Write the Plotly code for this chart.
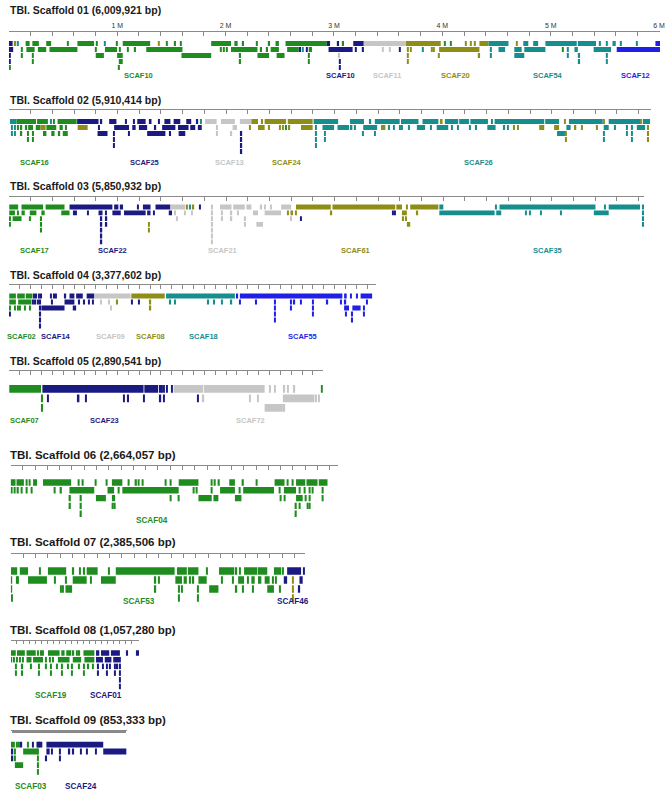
import plotly.graph_objects as go

W, H = 665, 795

# colour of each chromosome-group code
COLORS = {
    "G": "#1E8C1E",  # green
    "N": "#1A1A82",  # navy
    "Y": "#C6C6C6",  # grey
    "O": "#8E8E16",  # olive
    "T": "#178E8E",  # teal
    "B": "#1F1FE6",  # blue
}

SCAFFOLD_TITLES = [
    "TBI. Scaffold 01 (6,009,921 bp)",
    "TBI. Scaffold 02 (5,910,414 bp)",
    "TBI. Scaffold 03 (5,850,932 bp)",
    "TBI. Scaffold 04 (3,377,602 bp)",
    "TBI. Scaffold 05 (2,890,541 bp)",
    "TBI. Scaffold 06 (2,664,057 bp)",
    "TBI. Scaffold 07 (2,385,506 bp)",
    "TBI. Scaffold 08 (1,057,280 bp)",
    "TBI. Scaffold 09 (853,333 bp)",
]
SCAFFOLD_LENGTHS = [6009921, 5910414, 5850932, 3377602, 2890541,
                    2664057, 2385506, 1057280, 853333]

# aligned blocks: (group, start kb, end kb, track row)
# short hits: (group, position kb, first row, last row)
# group labels: (text, group, centre kb)

S01_BLOCKS = [
    ("N", 0, 35, 0), ("G", 155, 192, 0), ("G", 217, 277, 0), ("G", 345, 390, 0),
    ("G", 633, 786, 0), ("G", 1051, 1304, 0), ("G", 1867, 2050, 0), ("G", 2081, 2111, 0),
    ("G", 2461, 2492, 0), ("G", 2553, 2934, 0), ("N", 2934, 2964, 0), ("N", 3178, 3275, 0),
    ("Y", 3275, 3665, 0), ("O", 3665, 3985, 0), ("O", 4342, 4427, 0), ("T", 4427, 4610, 0),
    ("T", 4747, 4793, 0), ("T", 4838, 4884, 0), ("T", 4951, 5240, 0), ("T", 5250, 5418, 0),
    ("T", 5570, 5600, 0), ("B", 5966, 6010, 0),
    ("N", 0, 40, 1), ("G", 162, 238, 1), ("G", 268, 345, 1), ("G", 375, 633, 1),
    ("G", 887, 999, 1), ("G", 1268, 1602, 1), ("G", 2050, 2294, 1), ("G", 2416, 2492, 1),
    ("G", 2568, 2675, 1), ("G", 2767, 2797, 1), ("N", 2950, 3172, 1), ("O", 3970, 4342, 1),
    ("T", 4518, 4579, 1), ("T", 4664, 4732, 1), ("T", 4756, 4951, 1), ("T", 5219, 5250, 1),
    ("T", 5396, 5557, 1), ("B", 5609, 6010, 1),
    ("G", 802, 877, 2), ("G", 999, 1051, 2), ("G", 1593, 1867, 2), ("G", 2294, 2401, 2),
    ("G", 2471, 2544, 2), ("T", 4664, 4756, 2),
    ("G", 1015, 1051, 3),
]
S01_TICKS = [
    ("O", 61, 0, 0), ("T", 85, 0, 0), ("G", 546, 0, 0), ("G", 809, 0, 0), ("T", 887, 0, 0),
    ("G", 1000, 0, 0), ("O", 1387, 0, 0), ("G", 1456, 0, 0), ("G", 1536, 0, 0),
    ("G", 1588, 0, 0), ("G", 2164, 0, 0), ("G", 2285, 0, 0), ("G", 2404, 0, 0),
    ("N", 3041, 0, 0), ("G", 3087, 0, 0), ("G", 4025, 0, 0), ("G", 4077, 0, 0),
    ("O", 4214, 0, 0), ("O", 4260, 0, 0), ("O", 4299, 0, 0), ("O", 4686, 0, 0),
    ("T", 5457, 0, 0), ("T", 5518, 0, 3), ("T", 5646, 0, 0), ("T", 5798, 0, 0),
    ("N", 9, 2, 3), ("G", 12, 4, 4), ("G", 123, 1, 2), ("G", 222, 2, 3), ("G", 802, 1, 1),
    ("G", 1024, 1, 1), ("G", 1100, 1, 1), ("G", 1167, 1, 1), ("G", 1015, 4, 4),
    ("G", 1959, 1, 1), ("G", 1983, 1, 1), ("G", 2011, 1, 1), ("G", 2136, 2, 3),
    ("G", 2330, 1, 1), ("G", 2385, 1, 1), ("N", 2690, 1, 1), ("T", 2715, 1, 1),
    ("N", 2751, 1, 1), ("G", 2767, 2, 3), ("Y", 3050, 2, 2), ("N", 3053, 3, 4),
    ("N", 3202, 1, 1), ("N", 3270, 1, 1), ("Y", 3452, 1, 1), ("Y", 3513, 1, 1),
    ("N", 3610, 1, 1), ("O", 3681, 1, 3), ("O", 3711, 1, 1), ("T", 3818, 1, 1),
    ("O", 3903, 1, 1), ("O", 3924, 1, 1), ("O", 3970, 2, 2), ("O", 4342, 2, 2),
    ("T", 4451, 1, 2), ("G", 5112, 1, 1), ("T", 5158, 1, 2), ("T", 5265, 2, 3),
]
S01_LABELS = [("SCAF10", "G", 1198), ("SCAF10", "N", 3056), ("SCAF11", "Y", 3492),
              ("SCAF20", "O", 4122), ("SCAF54", "T", 4973), ("SCAF12", "B", 5784)]

S02_BLOCKS = [
    ("T", 9, 70, 0), ("G", 70, 250, 0), ("G", 259, 359, 0), ("G", 448, 624, 0),
    ("N", 628, 825, 0), ("N", 923, 990, 0), ("N", 1182, 1259, 0), ("N", 1289, 1313, 0),
    ("N", 1432, 1487, 0), ("N", 1517, 1578, 0), ("N", 1633, 1679, 0), ("Y", 1807, 1913, 0),
    ("Y", 1953, 2081, 0), ("Y", 2127, 2233, 0), ("O", 2233, 2294, 0), ("O", 2355, 2553, 0),
    ("O", 2568, 2797, 0), ("T", 2806, 3032, 0), ("T", 3141, 3270, 0), ("T", 3370, 3599, 0),
    ("T", 3611, 3772, 0), ("T", 3809, 3955, 0), ("O", 3970, 3994, 0), ("T", 4015, 4138, 0),
    ("T", 4147, 4238, 0), ("T", 4250, 4412, 0), ("T", 4473, 4930, 0), ("T", 4939, 5067, 0),
    ("T", 5158, 5469, 0), ("T", 5524, 5813, 0), ("T", 5838, 5905, 0),
    ("G", 177, 222, 1), ("G", 247, 290, 1), ("O", 290, 338, 1), ("G", 345, 436, 1),
    ("G", 466, 496, 1), ("O", 633, 725, 1), ("N", 969, 1106, 1), ("N", 1136, 1167, 1),
    ("N", 1197, 1273, 1), ("N", 1411, 1533, 1), ("N", 1557, 1654, 1), ("N", 1670, 1716, 1),
    ("N", 1740, 1776, 1), ("Y", 2060, 2100, 1), ("O", 2294, 2355, 1), ("O", 2690, 2797, 1),
    ("T", 2888, 2995, 1), ("T", 3026, 3132, 1), ("T", 3147, 3163, 1), ("T", 3263, 3391, 1),
    ("O", 3427, 3467, 1), ("T", 3757, 3833, 1), ("T", 3940, 4046, 1), ("T", 4406, 4482, 1),
    ("O", 4884, 4930, 1), ("O", 5021, 5067, 1), ("T", 5134, 5173, 1), ("O", 5204, 5225, 1),
    ("T", 5478, 5524, 1), ("T", 5783, 5859, 1),
    ("G", 314, 345, 2), ("G", 390, 420, 2), ("G", 451, 472, 2), ("G", 496, 542, 2),
    ("N", 816, 908, 2), ("N", 1273, 1441, 2), ("N", 1563, 1624, 2), ("T", 5048, 5121, 2),
]
S02_TICKS = [
    ("T", 390, 0, 0), ("G", 414, 0, 0), ("N", 853, 0, 0), ("N", 1076, 0, 0),
    ("N", 1152, 0, 0), ("N", 1380, 0, 0), ("N", 1737, 0, 0), ("T", 1770, 0, 0),
    ("O", 2334, 0, 0), ("T", 3330, 0, 0), ("T", 4449, 0, 0), ("O", 5121, 0, 0),
    ("O", 5478, 0, 0), ("O", 5819, 0, 0),
    ("T", 25, 1, 2), ("T", 55, 1, 2), ("G", 85, 1, 1), ("G", 116, 1, 2), ("G", 162, 1, 1),
    ("G", 177, 2, 3), ("G", 222, 2, 3), ("G", 527, 1, 1), ("N", 832, 1, 1), ("N", 969, 2, 4),
    ("N", 1106, 2, 2), ("N", 1350, 1, 1), ("N", 1487, 2, 2), ("Y", 1913, 1, 2),
    ("Y", 2050, 2, 2), ("Y", 2081, 1, 1), ("N", 2142, 2, 5), ("O", 2218, 1, 1),
    ("O", 2395, 1, 1), ("O", 2495, 1, 1), ("O", 2523, 1, 1), ("G", 2553, 1, 1),
    ("O", 2584, 1, 1), ("T", 2827, 1, 4), ("T", 2910, 2, 3), ("T", 2964, 1, 1),
    ("T", 3190, 1, 1), ("T", 3263, 2, 2), ("T", 3370, 2, 2), ("T", 3498, 1, 1),
    ("T", 3544, 1, 1), ("T", 3599, 1, 1), ("T", 3620, 1, 1), ("T", 3681, 1, 1),
    ("T", 3885, 1, 1), ("T", 4077, 1, 1), ("T", 4138, 1, 1), ("T", 4244, 1, 1),
    ("T", 4305, 1, 1), ("T", 4564, 1, 1), ("T", 4595, 1, 1), ("O", 4655, 1, 1),
    ("O", 4686, 1, 1), ("O", 5128, 2, 3), ("O", 5280, 1, 1), ("O", 5417, 1, 1),
    ("T", 5478, 2, 3), ("T", 5579, 1, 1), ("T", 5692, 1, 2), ("T", 5738, 1, 3),
    ("O", 5889, 1, 3),
]
S02_LABELS = [("SCAF16", "G", 238), ("SCAF25", "N", 1250), ("SCAF13", "Y", 2029),
              ("SCAF24", "O", 2559), ("SCAF26", "T", 4321)]

S03_BLOCKS = [
    ("G", 3, 85, 0), ("G", 116, 314, 0), ("G", 338, 512, 0), ("N", 558, 953, 0),
    ("N", 969, 1008, 0), ("N", 1021, 1051, 0), ("N", 1182, 1197, 0), ("N", 1234, 1304, 0),
    ("N", 1350, 1487, 0), ("Y", 1487, 1624, 0), ("Y", 1944, 2050, 0), ("Y", 2066, 2172, 0),
    ("Y", 2187, 2233, 0), ("Y", 2507, 2599, 0), ("O", 2644, 2964, 0), ("O", 2980, 3558, 0),
    ("O", 3568, 3620, 0), ("O", 3696, 3955, 0), ("T", 3964, 4001, 0), ("T", 4518, 5402, 0),
    ("T", 5524, 5813, 0),
    ("G", 3, 55, 1), ("G", 116, 146, 1), ("G", 192, 253, 1), ("G", 299, 329, 1),
    ("G", 482, 558, 1), ("N", 825, 862, 1), ("N", 953, 1030, 1), ("N", 1060, 1259, 1),
    ("N", 1273, 1304, 1), ("N", 1472, 1502, 1), ("Y", 2248, 2294, 1), ("Y", 2355, 2507, 1),
    ("O", 3620, 3665, 1), ("T", 3964, 4473, 1), ("T", 4488, 4534, 1), ("T", 5387, 5524, 1),
    ("G", 34, 116, 2), ("Y", 2279, 2340, 3), ("O", 3665, 3696, 3),
]
S03_TICKS = [
    ("O", 1639, 0, 0), ("T", 1670, 0, 0), ("O", 1700, 0, 0), ("N", 1761, 0, 0),
    ("Y", 1867, 0, 6), ("Y", 2325, 0, 0), ("Y", 2355, 0, 0), ("Y", 2416, 0, 0),
    ("O", 3665, 0, 0), ("T", 4488, 0, 0), ("T", 5487, 0, 0), ("T", 5844, 0, 3),
    ("G", 85, 1, 1), ("G", 9, 2, 3), ("G", 192, 2, 2), ("G", 299, 2, 4), ("N", 603, 1, 1),
    ("N", 619, 1, 1), ("N", 725, 1, 1), ("N", 853, 2, 6), ("N", 899, 2, 3), ("N", 893, 1, 1),
    ("N", 1335, 1, 1), ("O", 1289, 3, 4), ("Y", 1533, 1, 1), ("Y", 1548, 2, 2),
    ("Y", 1624, 1, 1), ("Y", 1685, 1, 1), ("Y", 1959, 1, 1), ("Y", 1965, 2, 2),
    ("Y", 2050, 1, 2), ("Y", 2111, 1, 1), ("Y", 2172, 2, 3), ("Y", 2599, 1, 2),
    ("O", 2568, 1, 1), ("O", 2610, 1, 1), ("O", 2640, 1, 1), ("N", 2690, 2, 2),
    ("O", 2971, 1, 1), ("N", 3537, 1, 1), ("N", 3558, 1, 1), ("O", 3763, 1, 1),
    ("O", 3629, 2, 2), ("O", 3655, 2, 2), ("T", 4762, 1, 1), ("T", 4799, 1, 1),
    ("T", 4899, 1, 1), ("T", 5082, 1, 1),
]
S03_LABELS = [("SCAF17", "G", 238), ("SCAF22", "N", 953), ("SCAF21", "Y", 1965),
              ("SCAF61", "O", 3193), ("SCAF35", "T", 4961)]

S04_BLOCKS = [
    ("G", 3, 64, 0), ("G", 76, 146, 0), ("G", 155, 217, 0), ("N", 222, 259, 0),
    ("N", 512, 527, 0), ("N", 558, 603, 0), ("N", 619, 680, 0), ("N", 716, 786, 0),
    ("Y", 786, 1121, 0), ("O", 1127, 1435, 0), ("T", 1447, 2081, 0), ("B", 2127, 3071, 0),
    ("B", 3087, 3111, 0), ("B", 3239, 3345, 0),
    ("G", 3, 64, 1), ("G", 85, 207, 1), ("N", 512, 603, 1),
    ("N", 299, 512, 2), ("N", 588, 619, 2), ("B", 3087, 3132, 2), ("B", 3163, 3239, 2),
]
S04_TICKS = [
    ("N", 277, 0, 0), ("N", 299, 0, 0), ("N", 390, 0, 0), ("N", 420, 0, 0), ("N", 436, 0, 0),
    ("B", 2105, 0, 0), ("B", 3147, 0, 0), ("B", 3208, 0, 0),
    ("G", 9, 2, 2), ("N", 9, 3, 3), ("G", 55, 2, 2), ("G", 85, 2, 2), ("G", 100, 2, 2),
    ("G", 146, 2, 2), ("G", 192, 2, 2), ("N", 222, 1, 1), ("N", 245, 1, 1), ("N", 270, 1, 1),
    ("N", 290, 1, 5), ("N", 399, 1, 1), ("N", 649, 1, 1), ("N", 695, 1, 1), ("N", 734, 1, 1),
    ("N", 771, 1, 1), ("Y", 847, 1, 1), ("Y", 923, 1, 1), ("Y", 939, 2, 2), ("O", 999, 1, 1),
    ("N", 1136, 1, 1), ("N", 1197, 1, 1), ("O", 1304, 1, 2), ("T", 1487, 1, 1),
    ("T", 1533, 1, 1), ("T", 1837, 1, 1), ("T", 1892, 1, 1), ("T", 1959, 1, 1),
    ("T", 2050, 1, 1), ("B", 2127, 1, 1), ("B", 2279, 1, 1), ("B", 2447, 1, 4),
    ("B", 2599, 1, 2), ("B", 2630, 1, 1), ("B", 2690, 1, 1), ("B", 2797, 1, 3),
    ("B", 2934, 1, 1), ("B", 3060, 1, 1), ("B", 3100, 1, 1), ("B", 3102, 3, 3),
    ("B", 3163, 3, 4), ("B", 3270, 2, 3), ("B", 3300, 1, 1),
]
S04_LABELS = [("SCAF02", "G", 116), ("SCAF14", "N", 436), ("SCAF09", "Y", 939),
              ("SCAF08", "O", 1304), ("SCAF18", "T", 1792), ("SCAF55", "B", 2706)]

S05_BLOCKS = [
    ("G", 3, 277, 0), ("N", 308, 1240, 0), ("N", 1247, 1374, 0), ("Y", 1517, 1790, 0),
    ("Y", 1797, 2355, 0), ("G", 2873, 2904, 0),
    ("N", 633, 649, 1), ("Y", 2523, 2813, 1),
    ("Y", 2355, 2523, 2),
]
S05_TICKS = [
    ("G", 290, 0, 0), ("N", 1396, 0, 0), ("N", 1411, 0, 0), ("N", 1426, 0, 0),
    ("N", 1456, 0, 0), ("N", 1502, 0, 0), ("Y", 2401, 0, 0), ("Y", 2447, 0, 0),
    ("Y", 2538, 0, 0), ("Y", 2568, 0, 0), ("Y", 2630, 0, 0),
    ("G", 308, 1, 2), ("N", 359, 1, 1), ("N", 710, 1, 1), ("N", 1060, 1, 1),
    ("N", 1100, 1, 1), ("N", 1243, 1, 1), ("N", 1396, 1, 1), ("N", 1426, 1, 1),
    ("N", 1740, 1, 1), ("Y", 1792, 1, 1), ("Y", 2218, 1, 1), ("Y", 2294, 1, 1),
    ("Y", 2827, 1, 1), ("Y", 2858, 1, 1), ("Y", 2538, 2, 2),
]
S05_LABELS = [("SCAF07", "G", 146), ("SCAF23", "N", 878), ("SCAF72", "Y", 2224)]

S06_BLOCKS = [
    ("G", 0, 40, 0), ("G", 48, 108, 0), ("G", 183, 215, 0), ("G", 264, 493, 0),
    ("G", 825, 910, 0), ("G", 1369, 1530, 0), ("G", 1781, 1827, 0), ("G", 2150, 2231, 0),
    ("G", 2325, 2400, 0), ("G", 2410, 2500, 0), ("G", 2510, 2581, 0),
    ("G", 479, 681, 1), ("G", 789, 843, 1), ("G", 910, 1369, 1), ("G", 1706, 1827, 1),
    ("G", 1894, 2145, 1), ("G", 2226, 2325, 1),
    ("G", 695, 776, 2), ("G", 825, 851, 2), ("G", 1530, 1638, 2), ("G", 1652, 1692, 2),
    ("G", 1827, 1880, 2), ("G", 2325, 2379, 2),
]
S06_TICKS = [
    ("G", 129, 0, 0), ("G", 156, 0, 0), ("G", 555, 0, 0), ("G", 587, 0, 0), ("G", 695, 0, 0),
    ("G", 781, 0, 0), ("G", 959, 0, 0), ("G", 1023, 0, 0), ("G", 1045, 0, 0),
    ("G", 1078, 0, 0), ("G", 1261, 0, 0), ("G", 1302, 0, 0), ("G", 1638, 0, 0),
    ("G", 1665, 0, 0), ("G", 1698, 0, 0), ("G", 1894, 0, 0), ("G", 2002, 0, 0),
    ("G", 2258, 0, 0), ("G", 2298, 0, 0),
    ("G", 8, 1, 1), ("G", 35, 1, 1), ("G", 61, 1, 1), ("G", 89, 1, 1), ("G", 129, 1, 1),
    ("G", 170, 1, 1), ("G", 358, 1, 1), ("G", 412, 1, 1), ("G", 878, 1, 1), ("G", 1490, 1, 1),
    ("G", 1517, 1, 1), ("G", 1638, 1, 1), ("G", 1867, 1, 1), ("G", 2191, 1, 1),
    ("G", 2353, 1, 1), ("G", 2393, 1, 1), ("G", 2433, 1, 1), ("G", 2460, 1, 1),
    ("G", 2541, 1, 1),
    ("G", 485, 2, 3), ("G", 574, 2, 4), ("G", 1302, 2, 2), ("G", 1369, 2, 2),
    ("G", 2199, 2, 2), ("G", 2231, 2, 2), ("G", 2406, 2, 2), ("G", 2433, 2, 3),
    ("G", 2541, 2, 2), ("G", 834, 3, 3), ("G", 848, 3, 3), ("G", 2325, 3, 4),
    ("G", 2353, 3, 3), ("G", 2420, 3, 3),
]
S06_LABELS = [("SCAF04", "G", 1153)]

S07_BLOCKS = [
    ("G", 0, 51, 0), ("G", 72, 139, 0), ("G", 300, 448, 0), ("G", 614, 703, 0),
    ("G", 850, 1327, 0), ("G", 1346, 1426, 0), ("G", 1434, 1520, 0), ("G", 1687, 1810, 0),
    ("G", 1890, 1998, 0), ("G", 2003, 2078, 0), ("G", 2132, 2191, 0), ("N", 2239, 2352, 0),
    ("G", 139, 292, 1), ("G", 501, 614, 1), ("G", 730, 850, 1), ("G", 1333, 1387, 1),
    ("G", 1400, 1426, 1), ("G", 1520, 1587, 1), ("G", 1842, 1890, 1), ("G", 1949, 1976, 1),
    ("G", 2003, 2030, 1), ("G", 2057, 2097, 1), ("N", 2212, 2239, 1), ("N", 2339, 2365, 1),
    ("G", 442, 496, 2), ("G", 1607, 1682, 2), ("G", 2078, 2132, 2),
    ("G", 5, 14, 3),
]
S07_TICKS = [
    ("G", 233, 0, 0), ("G", 507, 0, 0), ("G", 561, 0, 0), ("G", 595, 0, 0), ("G", 796, 0, 0),
    ("G", 1587, 0, 0), ("G", 1829, 0, 0), ("G", 1856, 0, 0), ("G", 2204, 0, 0),
    ("N", 2373, 0, 0),
    ("G", 5, 1, 2), ("G", 46, 1, 1), ("G", 59, 1, 1), ("G", 354, 1, 1), ("G", 448, 1, 1),
    ("G", 649, 1, 1), ("G", 1172, 1, 2), ("G", 1201, 1, 1), ("G", 1454, 1, 1),
    ("G", 1480, 1, 1), ("G", 1708, 1, 1), ("G", 1802, 1, 1), ("G", 1923, 1, 1),
    ("G", 2124, 1, 1), ("G", 2151, 1, 1), ("O", 2285, 1, 3),
    ("G", 408, 2, 2), ("G", 421, 2, 2), ("G", 1360, 2, 3), ("G", 1387, 2, 2),
    ("G", 1514, 2, 3), ("G", 1829, 2, 2), ("G", 1883, 2, 2), ("G", 1963, 2, 2),
    ("G", 2178, 2, 2), ("N", 2339, 2, 2),
]
S07_LABELS = [("SCAF53", "G", 1038), ("SCAF46", "N", 2285)]

S08_BLOCKS = [
    ("G", 0, 40, 0), ("G", 50, 115, 0), ("G", 129, 205, 0), ("G", 306, 402, 0),
    ("G", 416, 443, 0), ("G", 457, 498, 0), ("G", 599, 689, 0), ("N", 703, 730, 0),
    ("N", 744, 812, 0), ("N", 826, 900, 0),
    ("G", 129, 170, 1), ("G", 183, 265, 1), ("G", 388, 484, 1), ("G", 511, 580, 1),
    ("G", 607, 689, 1), ("N", 703, 760, 1), ("N", 775, 830, 1), ("N", 845, 908, 1),
]
S08_TICKS = [
    ("G", 224, 0, 0), ("G", 252, 0, 0), ("G", 265, 0, 0), ("G", 517, 0, 0), ("G", 544, 0, 0),
    ("G", 566, 0, 0), ("N", 962, 0, 0), ("N", 1044, 0, 0), ("N", 1058, 0, 0),
    ("G", 5, 1, 1), ("G", 27, 1, 1), ("G", 49, 1, 1), ("G", 76, 1, 1), ("G", 100, 1, 1),
    ("G", 290, 1, 1), ("G", 320, 1, 1), ("G", 350, 1, 1),
    ("G", 40, 2, 3), ("G", 95, 2, 3), ("G", 165, 2, 2), ("G", 230, 2, 3), ("G", 290, 2, 2),
    ("G", 330, 2, 3), ("G", 380, 2, 2), ("G", 420, 2, 3), ("G", 470, 2, 2), ("G", 505, 2, 3),
    ("G", 560, 2, 2), ("G", 600, 2, 3), ("G", 640, 2, 2), ("G", 680, 2, 2),
    ("N", 720, 2, 3), ("N", 760, 2, 2), ("N", 790, 2, 3), ("N", 820, 2, 2), ("N", 860, 2, 3),
    ("N", 880, 2, 2), ("N", 900, 2, 5),
]
S08_LABELS = [("SCAF19", "G", 334), ("SCAF01", "N", 785)]

S09_BLOCKS = [
    ("G", 0, 29, 0), ("N", 188, 231, 0), ("N", 261, 679, 0),
    ("G", 90, 199, 1), ("N", 261, 285, 1), ("N", 679, 849, 1),
    ("G", 29, 90, 3),
]
S09_TICKS = [
    ("G", 42, 0, 0), ("G", 61, 0, 0), ("N", 78, 0, 0), ("G", 126, 0, 0), ("N", 163, 0, 0),
    ("G", 205, 0, 0),
    ("N", 12, 1, 2), ("G", 29, 1, 2), ("N", 304, 1, 1), ("N", 358, 1, 2), ("N", 431, 1, 1),
    ("N", 460, 1, 1), ("N", 516, 1, 1), ("N", 557, 1, 1), ("N", 626, 1, 1),
    ("G", 199, 1, 4), ("N", 261, 2, 2),
]
S09_LABELS = [("SCAF03", "G", 151), ("SCAF24", "N", 516)]

ALL_BLOCKS = [S01_BLOCKS, S02_BLOCKS, S03_BLOCKS, S04_BLOCKS, S05_BLOCKS,
              S06_BLOCKS, S07_BLOCKS, S08_BLOCKS, S09_BLOCKS]
ALL_TICKS = [S01_TICKS, S02_TICKS, S03_TICKS, S04_TICKS, S05_TICKS,
             S06_TICKS, S07_TICKS, S08_TICKS, S09_TICKS]
ALL_LABELS = [S01_LABELS, S02_LABELS, S03_LABELS, S04_LABELS, S05_LABELS,
              S06_LABELS, S07_LABELS, S08_LABELS, S09_LABELS]

# page geometry of each scaffold panel, in pixels
PANELS = [
    dict(title_y=10, axis_y=32, row0_y=43.5, pitch=6.0, label_y=76, x0=8.9, ppm=109.2,
         dtick=200000, bar=0.82, tsize=10.5, lsize=7.5, tlen=4),
    dict(title_y=100, axis_y=109.5, row0_y=121.5, pitch=6.0, label_y=162.5, x0=9, ppm=109.4,
         dtick=200000, bar=0.82, tsize=10.5, lsize=7.5, tlen=4),
    dict(title_y=186, axis_y=196.5, row0_y=207, pitch=5.8, label_y=250.5, x0=9, ppm=109.4,
         dtick=200000, bar=0.82, tsize=10.5, lsize=7.5, tlen=4),
    dict(title_y=275, axis_y=284.5, row0_y=296, pitch=6.0, label_y=336.5, x0=9, ppm=109.4,
         dtick=100000, bar=0.82, tsize=10.5, lsize=7.5, tlen=4),
    dict(title_y=361, axis_y=370.5, row0_y=388.8, pitch=9.5, label_y=420, x0=9, ppm=109.4,
         dtick=100000, bar=0.82, tsize=10.5, lsize=7.5, tlen=4),
    dict(title_y=455, axis_y=466, row0_y=482.5, pitch=7.8, label_y=520, x0=10.7, ppm=123.7,
         dtick=100000, bar=0.82, tsize=11.5, lsize=8.2, tlen=4),
    dict(title_y=542, axis_y=553.5, row0_y=571, pitch=9.0, label_y=601, x0=11, ppm=124.3,
         dtick=100000, bar=0.84, tsize=11.5, lsize=8.2, tlen=4),
    dict(title_y=630, axis_y=641, row0_y=653, pitch=6.7, label_y=695, x0=11, ppm=122,
         dtick=50000, bar=0.82, tsize=11.5, lsize=8.2, tlen=3),
    dict(title_y=720, axis_y=730.5, row0_y=744.7, pitch=6.8, label_y=786.5, x0=11, ppm=137,
         dtick=5000, bar=0.86, tsize=11.5, lsize=8.2, tlen=2),
]

FONT = "Liberation Sans, Arial, sans-serif"
AXIS_GREY = "#8a8a8a"
TICK_PX = 1.3

fig = go.Figure()
layout = {}
annotations = []

for i, g in enumerate(PANELS):
    n = i + 1
    xa, ya = f"x{n}", f"y{n}"
    length = SCAFFOLD_LENGTHS[i]
    end_px = min(W, g["x0"] + length / 1e6 * g["ppm"])
    x_end = (end_px - g["x0"]) / g["ppm"] * 1e6

    bottom_px = min(H, g["label_y"] + 7)
    r_top = -(g["row0_y"] - g["axis_y"]) / g["pitch"]
    r_bottom = r_top + (bottom_px - g["axis_y"]) / g["pitch"]

    tickvals = list(range(0, int(x_end) + 1, g["dtick"]))
    if n == 1:
        ticktext = [f"{v // 1000000} M" if v and v % 1000000 == 0 else "" for v in tickvals]
    else:
        ticktext = ["" for _ in tickvals]

    layout[f"xaxis{n}"] = dict(
        domain=[g["x0"] / W, end_px / W], range=[0, x_end], anchor=ya, side="top",
        showline=True, linecolor=AXIS_GREY, linewidth=1, showgrid=False, zeroline=False,
        ticks="inside", ticklen=g["tlen"], tickwidth=1, tickcolor=AXIS_GREY,
        tickmode="array", tickvals=tickvals, ticktext=ticktext,
        showticklabels=(n == 1), ticklabeloverflow="allow",
        tickfont=dict(family=FONT, size=7, color="#333333"),
        fixedrange=True,
    )
    layout[f"yaxis{n}"] = dict(
        domain=[1 - bottom_px / H, 1 - g["axis_y"] / H], range=[r_bottom, r_top],
        anchor=xa, visible=False, fixedrange=True,
    )

    tick_bp = TICK_PX / g["ppm"] * 1e6
    for grp, col in COLORS.items():
        ys, xs, bases = [], [], []
        for gg, s, e, r in ALL_BLOCKS[i]:
            if gg == grp:
                ys.append(r)
                bases.append(s * 1000)
                xs.append((e - s) * 1000)
        for gg, p, r0, r1 in ALL_TICKS[i]:
            if gg == grp:
                for r in range(r0, r1 + 1):
                    ys.append(r)
                    bases.append(p * 1000 - tick_bp / 2)
                    xs.append(tick_bp)
        if not ys:
            continue
        fig.add_trace(go.Bar(
            orientation="h", y=ys, x=xs, base=bases, width=g["bar"],
            marker=dict(color=col, line=dict(width=0)),
            xaxis=xa, yaxis=ya, showlegend=False, hoverinfo="skip",
        ))

    annotations.append(dict(
        text=f"<b>{SCAFFOLD_TITLES[i]}</b>", xref="paper", yref="paper",
        x=8 / W, y=1 - g["title_y"] / H, xanchor="left", yanchor="middle",
        showarrow=False, font=dict(family=FONT, size=g["tsize"], color="#1a1a1a"),
    ))
    for text, grp, pos in ALL_LABELS[i]:
        annotations.append(dict(
            text=f"<b>{text}</b>", xref=xa, yref="paper", x=pos * 1000,
            y=1 - g["label_y"] / H, xanchor="center", yanchor="middle",
            showarrow=False, font=dict(family=FONT, size=g["lsize"], color=COLORS[grp]),
        ))

fig.update_layout(
    width=W, height=H, margin=dict(l=0, r=0, t=0, b=0, pad=0),
    paper_bgcolor="white", plot_bgcolor="white", barmode="overlay",
    showlegend=False, annotations=annotations, **layout,
)

fig.write_html("out.html")
